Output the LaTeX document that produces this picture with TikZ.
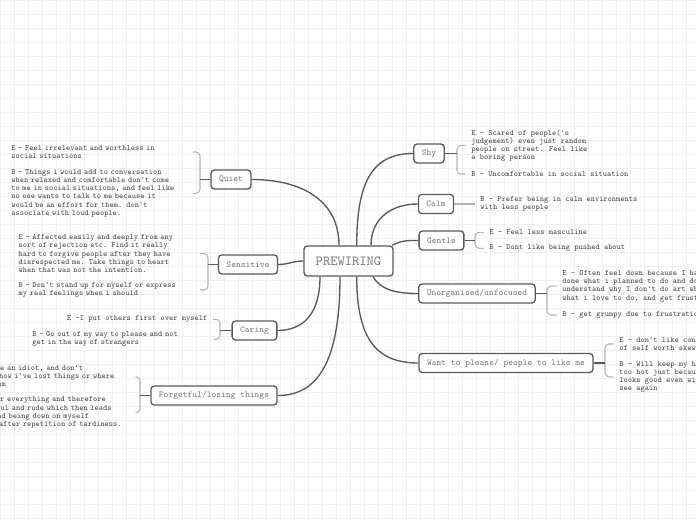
\documentclass[tikz,border=0pt]{standalone}
\usepackage{fontspec}
\usetikzlibrary{calc}
\definecolor{gridc}{HTML}{F0F0F0}
\definecolor{boxc}{HTML}{5A5A5A}
\definecolor{topictxt}{HTML}{7A7A7A}
\definecolor{notetxt}{HTML}{484848}
\definecolor{linkc}{HTML}{505A64}
\definecolor{bracec}{HTML}{B4B4B4}
\begin{document}
\begin{tikzpicture}[x=0.75pt,y=-0.75pt,
  topic/.style={draw=boxc, line width=1pt, rounded corners=2.5pt, fill=white, text=topictxt,
    font=\ttfamily\fontsize{6.76}{8}\selectfont, inner xsep=6pt, inner ysep=0pt, minimum height=14.25pt},
  central/.style={topic, font=\ttfamily\fontsize{10.4}{12}\selectfont, minimum height=22.5pt,
    minimum width=66.75pt, inner xsep=0pt},
  note/.style={font=\ttfamily\fontsize{6}{6.15}\selectfont, text=notetxt, align=left,
    inner xsep=4pt, inner ysep=0pt},
  wnote/.style={note, text width=132pt},
  link/.style={draw=linkc, line width=1pt},
  tick/.style={draw=boxc, line width=1pt},
  brace/.style={draw=bracec, line width=0.8pt, rounded corners=3pt}]
\useasboundingbox (0,0) rectangle (696,520);
\clip (0,0) rectangle (696,520);
\fill[white] (0,0) rectangle (696,520);
\draw[gridc, line width=0.5pt, step=10.5pt] (0,0) grid (696,520);

% central and topics
\node[central] (C) at (348.5,261) {PREWIRING};
\node[topic] (quiet) at (231,179.5) {Quiet};
\node[topic] (sens) at (248,264.5) {Sensitive};
\node[topic] (caring) at (254.5,330.5) {Caring};
\node[topic] (forget) at (214,395.5) {Forgetful/losing things};
\node[topic] (shy) at (429,153.5) {Shy};
\node[topic] (calm) at (436,204) {Calm};
\node[topic] (gentle) at (441.5,240.5) {Gentle};
\node[topic] (unorg) at (477,293.5) {Unorganised/unfocused};
\node[topic] (want) at (506,363) {Want to please/ people to like me};

% notes left
\node[wnote, anchor=west] (qE) at (5.7,152) {E - Feel irrelevant and worthless in\\social situations};
\node[wnote, anchor=west] (qB) at (5.7,193.3) {B - Things i would add to conversation\\when relaxed and comfortable don't come\\to me in social situations, and feel like\\no one wants to talk to me because it\\would be an effort for them. don't\\associate with loud people.};
\node[wnote, anchor=west] (sE) at (13,253.7) {E - Affected easily and deeply from any\\sort of rejection etc. Find it really\\hard to forgive people after they have\\disrespected me. Take things to heart\\when that was not the intention.};
\node[wnote, anchor=west] (sB) at (13,290) {B - Don't stand up for myself or express\\my real feelings when i should};
\node[note, anchor=east] (cE) at (213,319.3) {E -I put others first over myself};
\node[wnote, anchor=west] (cB) at (26.7,339.3) {B - Go out of my way to please and not\\get in the way of strangers};
\node[wnote, anchor=west] (fE) at (-51.7,376.7) {E - Feel like an idiot, and don't\\understand how i've lost things or where\\i've put them};
\node[wnote, anchor=west] (fB) at (-51.7,412.7) {B - Tardy for everything and therefore\\disrespectful and rude which then leads\\to guilt, and being down on myself\\especially after repetition of tardiness.};

% notes right
\node[note, anchor=west] (shyE) at (465.7,145.5) {E - Scared of people('s\\judgement) even just random\\people on street. Feel like\\a boring person};
\node[note, anchor=west] (shyB) at (465.7,174) {B - Uncomfortable in social situation};
\node[note, anchor=west] (calmB) at (474.7,204) {B - Prefer being in calm environments\\with less people};
\node[note, anchor=west] (genE) at (483.7,232.3) {E - Feel less masculine};
\node[note, anchor=west] (genB) at (483.7,248.3) {B - Dont like being pushed about};
\node[note, anchor=west] (unE) at (556.7,286.2) {E - Often feel down because I have not\\done what i planned to do and don't\\understand why I don't do art when it's\\what i love to do, and get frustrated};
\node[note, anchor=west] (unB) at (556.7,315) {B - get grumpy due to frustration};
\node[note, anchor=west] (wE) at (613.7,344) {E - don't like conflict, sense\\of self worth skewed};
\node[note, anchor=west] (wB) at (613.7,376.8) {B - Will keep my hair long even if\\too hot just because it\\looks good even with people i won't\\see again};

% bracket spines
\coordinate (qv) at (200,179.5);
\coordinate (sv) at (208,264.5);
\coordinate (cv) at (220,330.5);
\coordinate (fv) at (140,395.5);
\coordinate (shyv) at (457,153.5);
\coordinate (genv) at (475,240.5);
\coordinate (unv) at (547,293.5);
\coordinate (wv) at (605,363);

\draw[brace] (qE.east) -| (qv) |- (qB.east);
\draw[brace] (sE.east) -| (sv) |- (sB.east);
\draw[brace] (cE.east) -| (cv) |- (cB.east);
\draw[brace] (fE.east) -| (fv) |- (fB.east);
\draw[brace] (shyE.west) -| (shyv) |- (shyB.west);
\draw[brace] (genE.west) -| (genv) |- (genB.west);
\draw[brace] (unE.west) -| (unv) |- (unB.west);
\draw[brace] (wE.west) -| (wv) |- (wB.west);
\draw[brace] (calm.east) -- (calmB.west);

\draw[tick] (quiet.west) -- (qv);
\draw[tick] (sens.west) -- (sv);
\draw[tick] (caring.west) -- (cv);
\draw[tick] (forget.west) -- (fv);
\draw[tick] (shy.east) -- (shyv);
\draw[tick] (gentle.east) -- (genv);
\draw[tick] (unorg.east) -- (unv);
\draw[tick] (want.east) -- (wv);

% main connectors
\draw[link] ($(C.north)+(-9.5,0)$) .. controls +(0,-45) and +(50,0) .. (quiet.east);
\draw[link] ($(C.north)+(8.2,0)$) .. controls +(0,-65) and +(-40,0) .. (shy.west);
\draw[link] ($(C.north)+(22.5,0)$) .. controls +(0,-28) and +(-25,0) .. (calm.west);
\draw[link] ($(C.north east)+(-1.5,0)$) .. controls +(10,-5) and +(-12,0) .. (gentle.west);
\draw[link] (C.west) .. controls +(-10,0) and +(10,0) .. (sens.east);
\draw[link] ($(C.south)+(-28.5,0)$) .. controls +(0,38) and +(25,0) .. (caring.east);
\draw[link] ($(C.south)+(-8.5,0)$) .. controls +(0,85) and +(40,0) .. (forget.east);
\draw[link] ($(C.south)+(8.2,0)$) .. controls +(0,65) and +(-40,0) .. (want.west);
\draw[link] ($(C.south)+(24.5,0)$) .. controls +(8,14) and +(-20,0) .. (unorg.west);
\end{tikzpicture}
\end{document}
